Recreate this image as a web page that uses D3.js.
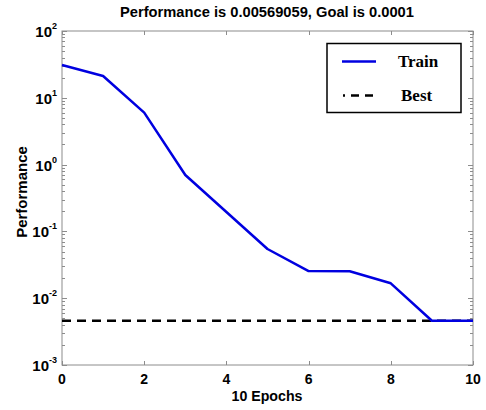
<!DOCTYPE html>
<html>
<head>
<meta charset="utf-8">
<script src="https://cdn.jsdelivr.net/npm/d3@7"></script>
<style>
  html, body { margin: 0; padding: 0; background: #fff; }
  svg { display: block; }
</style>
</head>
<body>
<svg id="chart" width="486" height="410"></svg>
<script>
// Training record: performance per epoch (log scale)
const epochs = [0, 1, 2, 3, 4, 5, 6, 7, 8, 9, 10];
const trainPerf = [31, 21.2, 6.0, 0.70, 0.195, 0.0545, 0.0255, 0.0253, 0.0167, 0.0046, 0.0046];
const bestPerf = 0.0046;
const xTicks = [0, 2, 4, 6, 8, 10];
const yExponents = [-3, -2, -1, 0, 1, 2];
const titleText = "Performance is 0.00569059, Goal is 0.0001";
const xLabel = "10 Epochs";
const yLabel = "Performance";
const legendItems = ["Train", "Best"];

const svg = d3.select("#chart");
const m = { left: 62, right: 473, top: 31, bottom: 365 };

const x = d3.scaleLinear().domain([0, 10]).range([m.left, m.right]);
const y = d3.scaleLog().domain([1e-3, 1e2]).range([m.bottom, m.top]);

const axisColor = "#8c8c8c";

// Plot box
svg.append("rect")
  .attr("x", m.left).attr("y", m.top)
  .attr("width", m.right - m.left).attr("height", m.bottom - m.top)
  .attr("fill", "none").attr("stroke", axisColor).attr("stroke-width", 1);

// X ticks (inward, bottom and top)
const xt = svg.append("g").attr("stroke", axisColor).attr("stroke-width", 1);
xTicks.forEach(t => {
  const px = Math.round(x(t)) + 0.5;
  xt.append("line").attr("x1", px).attr("x2", px).attr("y1", m.bottom).attr("y2", m.bottom - 4);
  xt.append("line").attr("x1", px).attr("x2", px).attr("y1", m.top).attr("y2", m.top + 4);
});

// Y ticks: majors at decades, minors at 2..9
const yt = svg.append("g").attr("stroke", axisColor).attr("stroke-width", 1);
yExponents.forEach(e => {
  const base = Math.pow(10, e);
  const py = Math.round(y(base)) + 0.5;
  yt.append("line").attr("x1", m.left).attr("x2", m.left + 5).attr("y1", py).attr("y2", py);
  yt.append("line").attr("x1", m.right).attr("x2", m.right - 5).attr("y1", py).attr("y2", py);
  if (e < 2) {
    for (let k = 2; k <= 9; k++) {
      const pm = Math.round(y(base * k)) + 0.5;
      yt.append("line").attr("x1", m.left).attr("x2", m.left + 3).attr("y1", pm).attr("y2", pm);
      yt.append("line").attr("x1", m.right).attr("x2", m.right - 3).attr("y1", pm).attr("y2", pm);
    }
  }
});

const labelFont = "Liberation Sans, Arial, sans-serif";

// X tick labels
svg.append("g").selectAll("text").data(xTicks).join("text")
  .attr("x", d => x(d)).attr("y", 384)
  .attr("text-anchor", "middle")
  .attr("font-family", labelFont).attr("font-weight", "bold").attr("font-size", 14)
  .attr("fill", "#000")
  .text(d => d);

// Y tick labels: 10 with superscript exponent
const yl = svg.append("g");
yExponents.forEach(e => {
  const t = yl.append("text")
    .attr("x", 57).attr("y", y(Math.pow(10, e)) + 6)
    .attr("text-anchor", "end")
    .attr("font-family", labelFont).attr("font-weight", "bold").attr("fill", "#000");
  t.append("tspan").attr("font-size", 15).text("10");
  t.append("tspan").attr("font-size", 9).attr("dy", -8).text(e);
});

// Title and axis labels
svg.append("text").attr("x", 267).attr("y", 17).attr("text-anchor", "middle")
  .attr("font-family", labelFont).attr("font-weight", "bold").attr("font-size", 14.7)
  .text(titleText);
svg.append("text").attr("x", 267).attr("y", 401).attr("text-anchor", "middle")
  .attr("font-family", labelFont).attr("font-weight", "bold").attr("font-size", 14.2)
  .text(xLabel);
svg.append("text")
  .attr("transform", "translate(27,192) rotate(-90)")
  .attr("text-anchor", "middle")
  .attr("font-family", labelFont).attr("font-weight", "bold").attr("font-size", 15)
  .text(yLabel);

// Best performance line
svg.append("line")
  .attr("x1", x(0)).attr("x2", x(10))
  .attr("y1", y(bestPerf)).attr("y2", y(bestPerf))
  .attr("stroke", "#000").attr("stroke-width", 2.5)
  .attr("stroke-dasharray", "9,6");

// Training curve
const line = d3.line().x((d, i) => x(epochs[i])).y(d => y(d));
svg.append("path").datum(trainPerf)
  .attr("d", line)
  .attr("fill", "none").attr("stroke", "#0000e0").attr("stroke-width", 2.5)
  .attr("stroke-linejoin", "round");

// Legend
const lg = svg.append("g");
lg.append("rect").attr("x", 327).attr("y", 43.5).attr("width", 134).attr("height", 69)
  .attr("fill", "#fff").attr("stroke", "#000").attr("stroke-width", 1.5);
lg.append("line").attr("x1", 342).attr("x2", 376).attr("y1", 61.5).attr("y2", 61.5)
  .attr("stroke", "#0000e0").attr("stroke-width", 2.5);
lg.append("line").attr("x1", 343).attr("x2", 376).attr("y1", 95.5).attr("y2", 95.5)
  .attr("stroke", "#000").attr("stroke-width", 2.5)
  .attr("stroke-dasharray", "8,6").attr("stroke-dashoffset", 6);
const legendFont = "Liberation Serif, Times New Roman, serif";
lg.selectAll("text").data(legendItems).join("text")
  .attr("x", (d, i) => i === 0 ? 398 : 401)
  .attr("y", (d, i) => i === 0 ? 67 : 101)
  .attr("font-family", legendFont).attr("font-weight", "bold").attr("font-size", 17)
  .text(d => d);
</script>
</body>
</html>
